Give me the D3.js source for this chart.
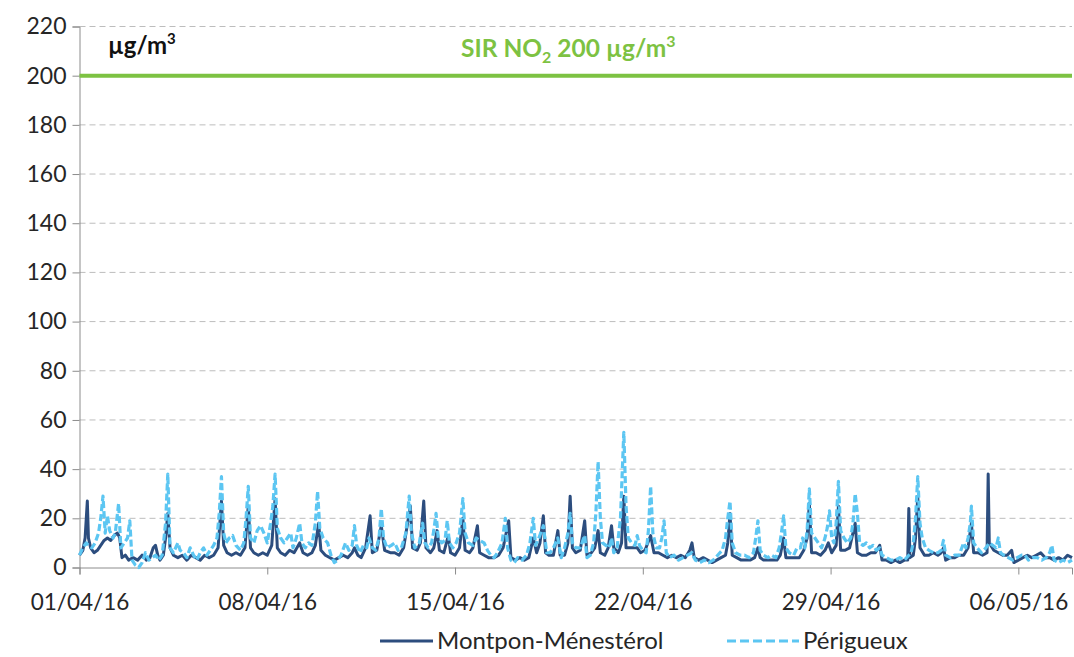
<!DOCTYPE html>
<html>
<head>
<meta charset="utf-8">
<script src="https://cdn.jsdelivr.net/npm/d3@7"></script>
<style>
  body { margin: 0; background: #fff; }
  svg { display: block; font-family: Lato, "Open Sans", sans-serif; }
</style>
</head>
<body>
<svg id="chart" width="1074" height="657"></svg>
<script>
// hours since 01/04/16 00:00, value in µg/m3
const montpon = [
  [0,5],[3,7],[5,12],[7,27],[8,12],[10,8],[13,6],[16,7],[19,9],[22,11],[25,12],[28,11],[31,13],[34,14],[36,12],[38,4],
  [41,5],[44,3],[48,4],[52,3],[56,5],[60,3],[63,4],[66,8],[68,9],[70,5],[72,3],[75,5],[77,12],[79,22],[81,8],[84,5],
  [88,4],[92,5],[96,3],[100,5],[104,4],[108,3],[112,5],[116,4],[120,5],[124,8],[127,27],[129,9],[132,6],[136,5],[140,6],
  [144,5],[148,8],[151,25],[153,8],[156,6],[160,5],[164,6],[168,5],[172,9],[175,28],[177,8],[180,6],[184,5],[188,7],
  [192,6],[197,10],[200,6],[204,5],[208,6],[211,9],[214,18],[216,7],[220,5],[224,4],[228,3],[232,4],[236,5],[240,4],
  [244,6],[246,8],[249,5],[252,4],[256,8],[260,21],[262,6],[266,7],[270,17],[273,7],[278,6],[282,6],[286,5],[290,8],
  [296,25],[298,8],[302,7],[305,10],[308,27],[310,8],[314,6],[317,8],[320,15],[322,7],[326,6],[330,13],[332,6],[336,5],
  [340,8],[343,20],[345,7],[349,6],[352,8],[356,17],[358,6],[362,5],[366,4],[371,4],[375,5],[379,8],[384,19],[386,4],
  [390,3],[394,4],[398,3],[402,4],[406,12],[409,6],[412,10],[415,21],[417,6],[420,5],[424,5],[428,15],[430,5],[434,5],
  [437,10],[439,29],[441,8],[444,6],[448,7],[452,19],[454,5],[458,6],[461,8],[464,15],[466,6],[470,5],[473,8],[476,17],
  [478,8],[482,6],[485,10],[487,29],[489,8],[492,8],[496,8],[499,8],[502,6],[506,7],[511,13],[514,6],[518,6],[522,5],
  [526,4],[530,5],[534,4],[538,5],[542,4],[546,7],[548,10],[550,4],[554,3],[558,4],[562,3],[566,2],[570,3],[574,4],
  [578,5],[580,10],[582,22],[584,5],[588,4],[592,3],[596,3],[600,3],[604,4],[607,8],[609,4],[612,3],[616,3],[620,3],
  [624,3],[627,5],[630,12],[632,4],[636,4],[640,4],[644,4],[648,7],[651,12],[653,26],[655,6],[659,6],[663,5],[667,7],
  [670,10],[673,6],[677,9],[679,25],[681,7],[685,7],[689,8],[691,12],[694,18],[696,6],[700,5],[704,5],[708,6],[712,6],
  [716,9],[718,3],[722,3],[726,2],[730,3],[734,2],[738,3],[741,3],[742,24],[743,4],[746,5],[748,12],[750,29],[752,8],
  [756,5],[760,5],[764,6],[768,5],[771,6],[773,8],[775,3],[779,4],[783,4],[787,5],[791,5],[795,8],[798,18],[800,6],
  [804,6],[808,5],[812,6],[813,38],[814,10],[818,7],[822,6],[826,5],[830,5],[834,7],[836,2],[840,3],[844,4],[848,5],
  [852,4],[856,5],[860,6],[864,4],[868,4],[872,3],[876,4],[880,3],[884,5],[888,4]
];
const perigueux = [
  [0,5],[3,8],[6,10],[8,9],[11,8],[14,10],[17,14],[19,20],[21,29],[23,14],[25,21],[27,15],[30,12],[32,14],[35,26],[37,8],
  [40,10],[43,12],[45,19],[47,3],[50,1],[53,0],[56,2],[59,6],[62,3],[65,4],[68,5],[71,3],[74,5],[77,18],[79,38],[81,8],
  [84,6],[88,10],[90,7],[93,6],[96,4],[99,8],[102,5],[105,3],[108,6],[111,8],[114,5],[117,7],[120,9],[123,12],[125,22],
  [127,37],[129,14],[131,10],[134,12],[137,13],[140,9],[144,7],[147,10],[149,20],[151,33],[153,12],[156,10],[159,15],
  [162,17],[165,14],[168,10],[171,18],[173,25],[175,38],[177,16],[180,12],[183,10],[186,12],[189,14],[191,8],[194,12],
  [197,18],[199,10],[202,8],[205,10],[208,9],[211,18],[213,31],[215,16],[218,12],[222,10],[225,5],[228,2],[231,3],
  [234,5],[238,10],[241,7],[244,9],[246,17],[248,9],[251,6],[254,9],[257,8],[259,12],[262,8],[265,7],[268,12],[270,24],
  [272,12],[275,8],[279,9],[282,10],[285,7],[288,8],[292,14],[295,29],[297,14],[300,8],[304,10],[307,18],[309,10],
  [312,8],[315,10],[317,15],[319,22],[321,12],[324,10],[327,11],[329,19],[331,10],[334,8],[337,10],[340,14],[343,28],
  [345,14],[348,10],[352,9],[355,12],[358,11],[362,10],[365,7],[368,5],[371,4],[374,6],[378,10],[381,20],[383,8],
  [386,3],[389,2],[392,4],[396,3],[400,5],[403,10],[406,20],[408,9],[411,12],[415,17],[418,6],[421,6],[424,8],[428,12],
  [431,4],[434,8],[437,14],[439,22],[441,10],[444,8],[448,8],[452,13],[454,4],[457,5],[460,10],[462,22],[464,43],
  [466,20],[468,10],[471,9],[474,8],[476,12],[478,6],[481,8],[484,20],[487,55],[489,25],[491,12],[494,10],[497,9],
  [499,13],[501,9],[504,7],[507,6],[509,15],[511,33],[513,14],[516,8],[519,8],[521,12],[523,19],[525,6],[528,4],
  [532,5],[536,3],[540,4],[544,5],[548,6],[551,3],[555,2],[559,3],[563,2],[567,3],[571,5],[575,7],[578,12],[580,20],
  [582,27],[584,10],[587,6],[591,5],[595,5],[599,4],[603,6],[605,12],[607,19],[609,7],[612,5],[616,4],[619,5],[623,4],
  [626,8],[628,14],[630,21],[632,8],[635,6],[639,5],[642,8],[645,8],[647,12],[649,8],[651,15],[653,32],[655,14],
  [658,12],[661,10],[664,8],[667,12],[669,16],[671,23],[673,12],[675,10],[677,18],[679,35],[681,15],[684,12],[687,10],
  [690,12],[692,18],[694,30],[696,22],[698,10],[701,9],[704,10],[707,8],[710,9],[713,7],[716,8],[718,5],[722,4],
  [726,3],[730,3],[734,4],[738,3],[742,5],[744,6],[746,10],[748,20],[750,37],[752,18],[754,12],[757,8],[760,7],
  [764,6],[768,6],[771,7],[773,11],[775,5],[779,4],[783,5],[787,5],[791,10],[793,8],[795,12],[797,18],[798,25],
  [800,10],[803,8],[807,6],[811,8],[814,10],[817,9],[820,8],[822,12],[824,6],[827,5],[831,4],[835,3],[839,4],[843,5],
  [846,5],[849,3],[853,4],[857,4],[861,3],[865,4],[868,6],[870,9],[872,3],[876,2],[880,3],[884,2],[888,3]
];
const yTicks = [0, 20, 40, 60, 80, 100, 120, 140, 160, 180, 200, 220];
const xTickLabels = ["01/04/16", "08/04/16", "15/04/16", "22/04/16", "29/04/16", "06/05/16"];
const threshold = 200;
const seriesNames = ["Montpon-Ménestérol", "Périgueux"];

const start = new Date(2016, 3, 1);
const toDate = h => new Date(start.getTime() + h * 3600000);
const parse = d3.timeParse("%d/%m/%y");
const fmt = d3.timeFormat("%d/%m/%y");

const svg = d3.select("#chart");
const plotLeft = 79.5, plotRight = 1072, plotTop = 26.5, plotBottom = 567.5;

const x = d3.scaleTime().domain([start, toDate(888)]).range([plotLeft, plotRight]);
const y = d3.scaleLinear().domain([0, 220]).range([plotBottom, plotTop]);

// grid lines
svg.append("g")
    .selectAll("line")
    .data(yTicks.filter(d => d > 0))
    .enter()
    .append("line")
    .attr("x1", plotLeft).attr("x2", plotRight)
    .attr("y1", d => y(d)).attr("y2", d => y(d))
    .style("stroke", "#bdbdbd")
    .style("stroke-width", 1)
    .style("stroke-dasharray", "6,4");

// y axis
const yAxis = svg.append("g")
    .attr("transform", `translate(${plotLeft},0)`)
    .call(d3.axisLeft(y).tickValues(yTicks).tickSize(7).tickPadding(6));
yAxis.select(".domain").style("stroke", "#8c8c8c");
yAxis.selectAll(".tick line").style("stroke", "#8c8c8c");
yAxis.selectAll("text")
    .style("font-family", "Lato, sans-serif")
    .style("font-size", "23px")
    .style("fill", "#262626");

// x axis
const xAxis = svg.append("g")
    .attr("transform", `translate(0,${plotBottom})`)
    .call(d3.axisBottom(x).tickValues(xTickLabels.map(parse)).tickFormat(fmt).tickSize(7).tickPadding(20));
xAxis.select(".domain").style("stroke", "#8c8c8c");
xAxis.selectAll(".tick line").style("stroke", "#8c8c8c");
xAxis.selectAll("text")
    .style("font-family", "Lato, sans-serif")
    .style("font-size", "22.5px")
    .style("fill", "#262626");

// threshold line
svg.append("line")
    .attr("x1", plotLeft).attr("x2", plotRight)
    .attr("y1", y(threshold)).attr("y2", y(threshold))
    .style("stroke", "#7dc242")
    .style("stroke-width", 4);

const line = d3.line()
    .x(d => x(toDate(d[0])))
    .y(d => y(d[1]));

svg.append("path")
    .datum(montpon)
    .attr("d", line)
    .style("fill", "none")
    .style("stroke", "#2c4d7e")
    .style("stroke-width", 3)
    .style("stroke-linejoin", "round");

svg.append("path")
    .datum(perigueux)
    .attr("d", line)
    .style("fill", "none")
    .style("stroke", "#5cc6f2")
    .style("stroke-width", 3.2)
    .style("stroke-dasharray", "7,3")
    .style("stroke-linejoin", "round");

// unit label
const unit = svg.append("text")
    .attr("x", 108).attr("y", 54)
    .style("font-family", "Lato, sans-serif")
    .style("font-size", "24px")
    .style("font-weight", "bold")
    .style("fill", "#111");
unit.append("tspan").text("µg/m");
unit.append("tspan").attr("dy", -10).style("font-size", "15px").text("3");

// threshold label
const sir = svg.append("text")
    .attr("x", 461).attr("y", 57)
    .style("font-family", "Lato, sans-serif")
    .style("font-size", "24.5px")
    .style("font-weight", "bold")
    .style("fill", "#7dc242");
sir.append("tspan").text("SIR NO");
sir.append("tspan").attr("dy", 6).style("font-size", "16px").text("2");
sir.append("tspan").attr("dy", -6).text(" 200 µg/m");
sir.append("tspan").attr("dy", -10).style("font-size", "16px").text("3");

// legend
const legend = svg.append("g");
legend.append("line")
    .attr("x1", 380).attr("x2", 433).attr("y1", 641).attr("y2", 641)
    .style("stroke", "#2c4d7e").style("stroke-width", 3);
legend.append("text")
    .attr("x", 437).attr("y", 649)
    .style("font-size", "24px").style("fill", "#262626")
    .text(seriesNames[0]);
legend.append("line")
    .attr("x1", 727).attr("x2", 799).attr("y1", 641).attr("y2", 641)
    .style("stroke", "#5cc6f2").style("stroke-width", 3)
    .style("stroke-dasharray", "9,4");
legend.append("text")
    .attr("x", 803).attr("y", 649)
    .style("font-size", "24px").style("fill", "#262626")
    .text(seriesNames[1]);
</script>
</body>
</html>
